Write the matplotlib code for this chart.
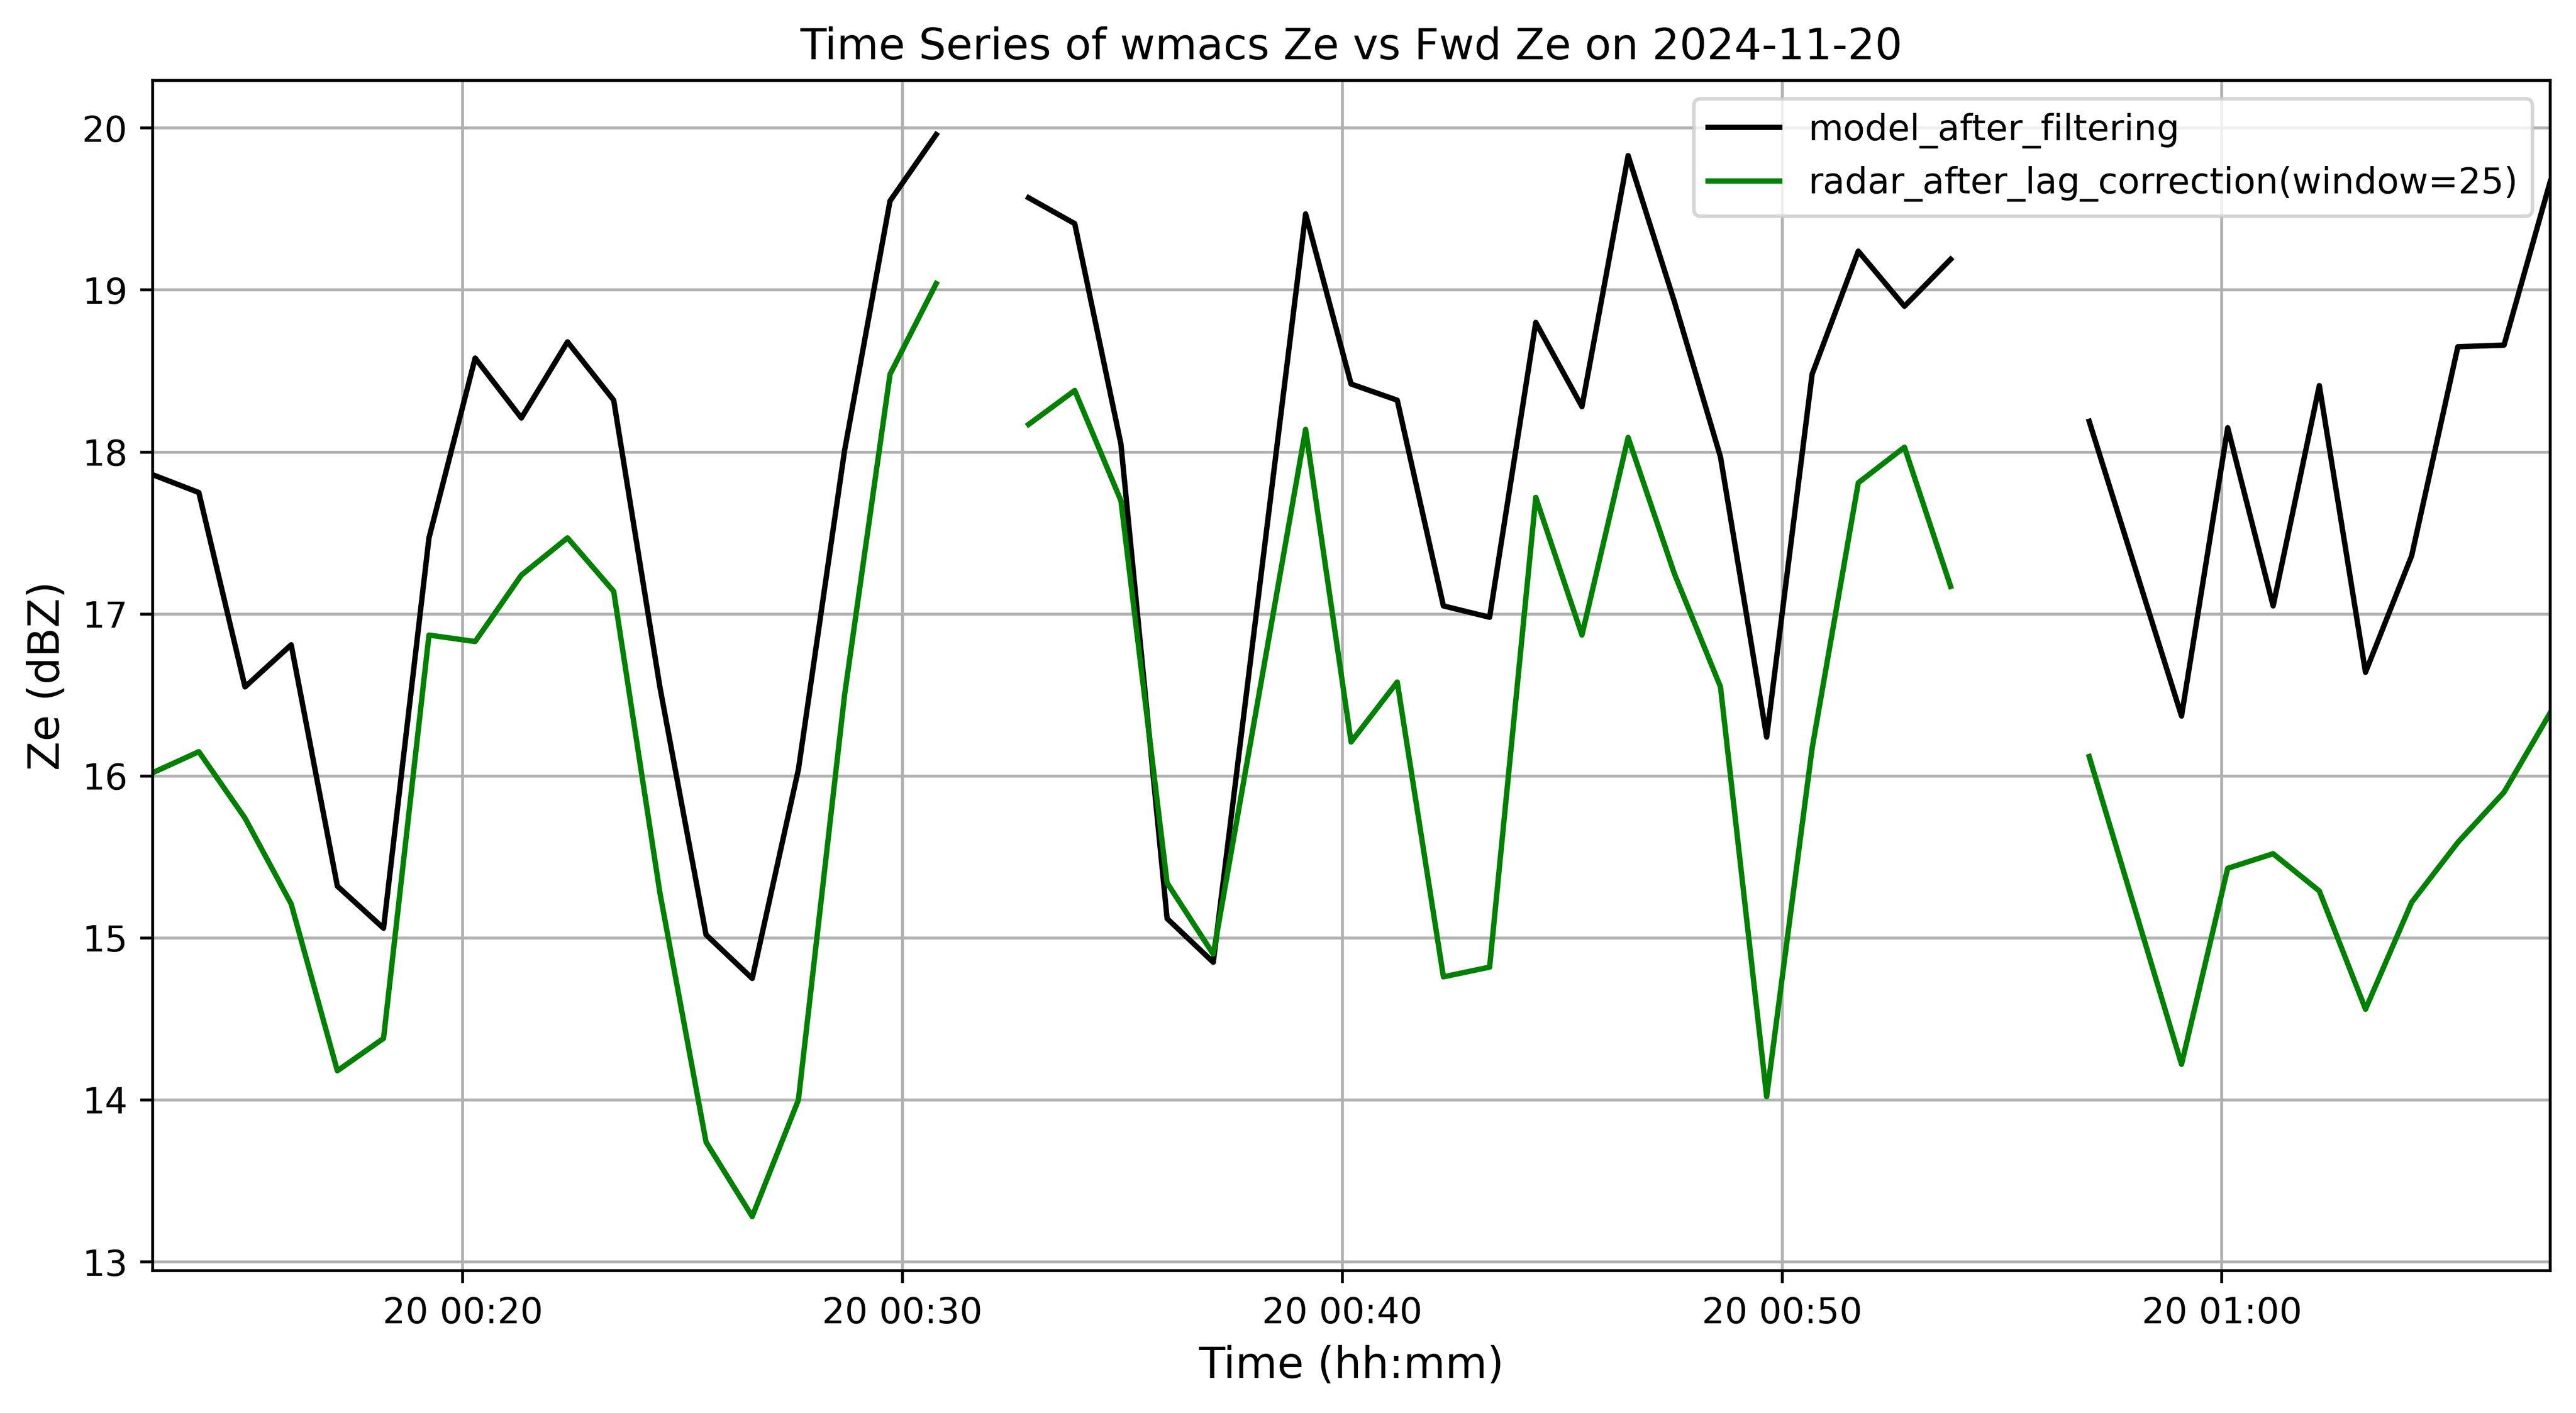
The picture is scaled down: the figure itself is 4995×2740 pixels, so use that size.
import numpy as np
import pandas as pd
import matplotlib
matplotlib.use("Agg")
import matplotlib.pyplot as plt
import matplotlib.dates as mdates

date = "2024-11-20"
times = [
    "00:12:57", "00:14:00", "00:15:03", "00:16:06", "00:17:09", "00:18:12",
    "00:19:14", "00:20:17", "00:21:20", "00:22:23", "00:23:26", "00:24:29",
    "00:25:32", "00:26:35", "00:27:38", "00:28:41", "00:29:43", "00:30:46",
    "00:31:49",
    "00:32:52", "00:33:55", "00:34:58", "00:36:01", "00:37:04",
    "00:39:10", "00:40:12", "00:41:15", "00:42:18", "00:43:21", "00:44:24",
    "00:45:27", "00:46:30", "00:47:33", "00:48:36", "00:49:39", "00:50:41",
    "00:51:44", "00:52:47", "00:53:50",
    "00:54:53", "00:55:56",
    "00:56:59", "00:58:02", "00:59:05", "01:00:08", "01:01:10", "01:02:13",
    "01:03:16", "01:04:19", "01:05:22", "01:06:25", "01:07:28",
]
nan = np.nan
model_after_filtering = [
    17.86, 17.75, 16.55, 16.81, 15.32, 15.06, 17.47, 18.58, 18.21, 18.68,
    18.32, 16.55, 15.02, 14.75, 16.04, 18.01, 19.55, 19.96,
    nan,
    19.57, 19.41, 18.05, 15.12, 14.85, 19.47, 18.42, 18.32, 17.05, 16.98,
    18.80, 18.28, 19.83, 18.93, 17.97, 16.24, 18.48, 19.24, 18.90, 19.19,
    nan, nan,
    18.19, 17.28, 16.37, 18.15, 17.05, 18.41, 16.64, 17.36, 18.65, 18.66, 19.67,
]
radar_after_lag_correction = [
    16.02, 16.15, 15.74, 15.21, 14.18, 14.38, 16.87, 16.83, 17.24, 17.47,
    17.14, 15.28, 13.74, 13.28, 14.00, 16.50, 18.48, 19.04,
    nan,
    18.17, 18.38, 17.70, 15.34, 14.90, 18.14, 16.21, 16.58, 14.76, 14.82,
    17.72, 16.87, 18.09, 17.25, 16.55, 14.02, 16.17, 17.81, 18.03, 17.17,
    nan, nan,
    16.12, 15.17, 14.22, 15.43, 15.52, 15.29, 14.56, 15.22, 15.59, 15.90, 16.39,
]

t = pd.to_datetime([f"{date} {s}" for s in times])

DPI = 500
fig = plt.figure(figsize=(4995 / DPI, 2740 / DPI), dpi=DPI)
ax = fig.add_axes([296 / 4995, 1 - 2464 / 2740, (4945 - 296) / 4995, (2464 - 156) / 2740])

ax.plot(t, model_after_filtering, color="black", linewidth=1.5, label="model_after_filtering")
ax.plot(t, radar_after_lag_correction, color="green", linewidth=1.5,
        label="radar_after_lag_correction(window=25)")

ax.set_xlim(t[0], t[-1])
ax.xaxis.set_major_locator(mdates.MinuteLocator(byminute=range(0, 60, 10)))
ax.xaxis.set_major_formatter(mdates.DateFormatter("%d %H:%M"))
ax.tick_params(axis="both", labelsize=10)
ax.grid(True)
ax.set_xlabel("Time (hh:mm)", fontsize=12)
ax.set_ylabel("Ze (dBZ)", fontsize=12)
ax.set_title(f"Time Series of wmacs Ze vs Fwd Ze on {date}", fontsize=12)
ax.legend(loc="upper right", fontsize=10)

fig.savefig("out.png", dpi=DPI)
